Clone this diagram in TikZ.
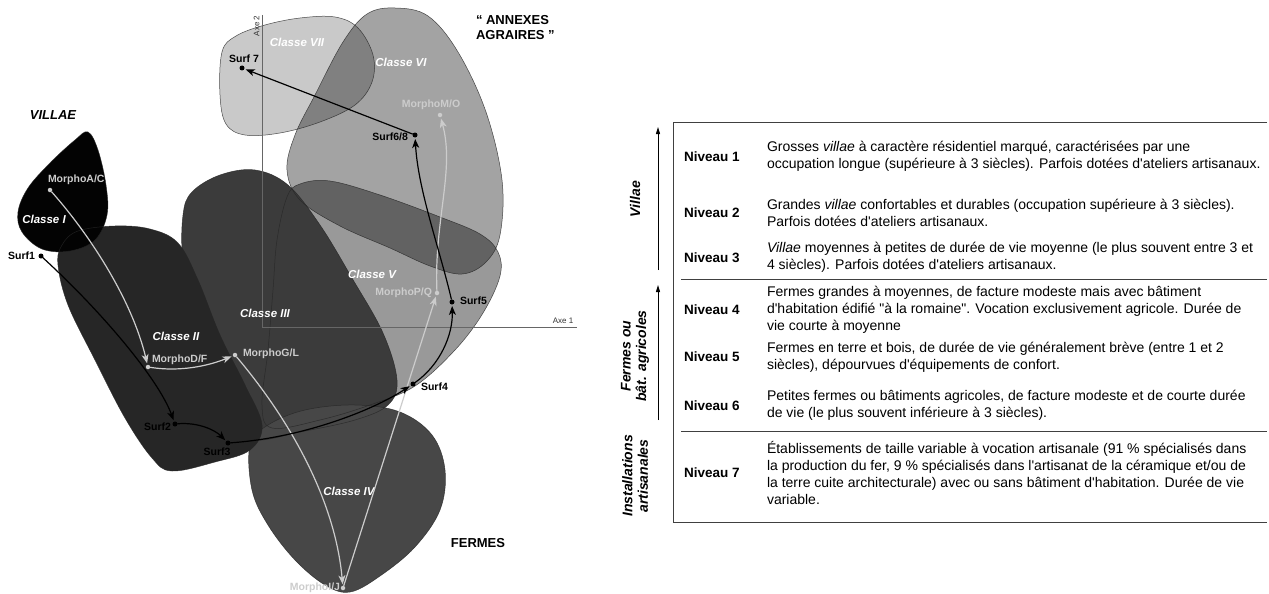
\documentclass[tikz,border=0pt]{standalone}
\usepackage{fontspec}
\setmainfont{Liberation Sans}[Ligatures=TeXOff]
\usetikzlibrary{arrows.meta}
\begin{document}
\begin{tikzpicture}[x=1pt,y=-1pt,
  every node/.style={inner sep=0pt,outer sep=0pt},
  blobline/.style={draw=black!85,line width=0.5pt,draw opacity=0.8},
  dot/.style={circle,fill=black,minimum size=5pt},
  ldot/.style={circle,fill=black!20,minimum size=4.5pt},
  slab/.style={font=\fontsize{10.5}{12}\selectfont\bfseries,text=black},
  mlab/.style={font=\fontsize{10.5}{12}\selectfont\bfseries,text=black!20},
  clab/.style={font=\fontsize{11.5}{13}\selectfont\bfseries\itshape,text=white},
  glab/.style={font=\fontsize{13}{15}\selectfont\bfseries,text=black},
  axlab/.style={font=\fontsize{8}{9}\selectfont,text=black!80},
  barrow/.style={draw=black,line width=1.2pt,-{Stealth[length=9pt,width=7pt,inset=2.5pt]},shorten >=1.5pt},
  larrow/.style={draw=black!20,line width=1.2pt,-{Stealth[length=9pt,width=7pt,inset=2.5pt]},shorten >=1.5pt},
  axisline/.style={draw=black!60,line width=0.7pt},
  frame/.style={draw=black!75,line width=1pt},
  nivl/.style={font=\fontsize{13.5}{17}\selectfont\bfseries,anchor=west},
  txt/.style={font=\fontsize{14}{17}\selectfont,anchor=west,align=left},
  rot/.style={rotate=90,font=\fontsize{14}{15.5}\selectfont\bfseries\itshape,align=center},
  tarrow/.style={draw=black,line width=0.9pt,-{Triangle[length=7pt,width=4pt]}}
]
\useasboundingbox (0,0) rectangle (1269,594);

% ---------- blob shapes ----------
\def\pVII{(222,52) (236,36) (265,25) (300,18) (335,17) (358,28) (373,55) (372,82) (355,105) (320,122) (280,133) (245,135) (226,124) (220,95)}
\def\pVI{(395,8) (428,16) (458,52) (486,112) (502,180) (500,235) (486,262) (462,274) (430,266) (390,248) (340,226) (300,200) (287,170) (295,135) (315,95) (343,42) (367,14)}
\def\pV{(300,184) (330,181) (380,195) (440,217) (480,234) (498,252) (500,276) (483,313) (455,350) (415,386) (370,405) (320,420) (272,428) (262,405) (268,350) (273,290) (277,240) (287,197)}
\def\pIII{(183,215) (192,192) (220,175) (255,170) (288,185) (320,225) (352,278) (383,333) (397,380) (388,405) (355,420) (300,432) (255,440) (228,425) (212,385) (195,320) (183,262)}
\def\pIV{(250,445) (268,425) (305,410) (355,405) (400,412) (432,435) (445,470) (440,510) (415,547) (380,576) (350,592) (325,585) (295,560) (268,525) (252,490)}
\def\pII{(62,245) (78,231) (115,226) (150,229) (178,243) (198,280) (220,335) (245,385) (262,425) (250,450) (215,462) (172,471) (152,458) (125,418) (95,360) (68,305) (58,265)}
\def\pI{(88,132) (98,150) (106,185) (107,215) (95,240) (70,251) (42,249) (22,232) (18,212) (28,188) (50,163) (75,140)}

\fill[black,fill opacity=0.21] plot[smooth cycle,tension=0.6] coordinates {\pVII};
\fill[black,fill opacity=0.36] plot[smooth cycle,tension=0.6] coordinates {\pVI};
\fill[black,fill opacity=0.40] plot[smooth cycle,tension=0.6] coordinates {\pV};
\fill[black!77] plot[smooth cycle,tension=0.6] coordinates {\pIII};
\fill[black!72] plot[smooth cycle,tension=0.6] coordinates {\pIV};
\fill[black!85] plot[smooth cycle,tension=0.6] coordinates {\pII};
\fill[black!99] plot[smooth cycle,tension=0.6] coordinates {\pI};

\draw[blobline] plot[smooth cycle,tension=0.6] coordinates {\pVII};
\draw[blobline] plot[smooth cycle,tension=0.6] coordinates {\pVI};
\draw[blobline] plot[smooth cycle,tension=0.6] coordinates {\pV};
\draw[blobline] plot[smooth cycle,tension=0.6] coordinates {\pIII};
\draw[blobline] plot[smooth cycle,tension=0.6] coordinates {\pIV};
\draw[blobline] plot[smooth cycle,tension=0.6] coordinates {\pII};
\draw[blobline] plot[smooth cycle,tension=0.6] coordinates {\pI};

% ---------- axes ----------
\coordinate (ax2top) at (262,15);
\coordinate (axo) at (262,327);
\coordinate (ax1end) at (577,327);
\draw[axisline] (ax2top) -- (axo) -- (ax1end);
\node[axlab,rotate=90] (axe2) at (256.5,26) {Axe 2};
\node[axlab] (axe1) at (563,321) {Axe 1};

% ---------- group labels ----------
\node[glab,font=\fontsize{13}{15}\selectfont\bfseries\itshape] (villae) at (53,115) {VILLAE};
\node[glab,anchor=west,align=left,font=\fontsize{13}{15}\selectfont\bfseries] (annexes) at (476,28) {“ ANNEXES\\AGRAIRES ”};
\node[glab] (fermes) at (478,543) {FERMES};

% ---------- class labels ----------
\node[clab] (cI) at (44,219) {Classe I};
\node[clab] (cII) at (176,336) {Classe II};
\node[clab] (cIII) at (265,313) {Classe III};
\node[clab] (cIV) at (349,491) {Classe IV};
\node[clab] (cV) at (372,274) {Classe V};
\node[clab] (cVI) at (401,62) {Classe VI};
\node[clab] (cVII) at (297,42) {Classe VII};

% ---------- points ----------
\node[dot] (s1) at (41,256) {};
\node[dot] (s2) at (175,424) {};
\node[dot] (s3) at (228,443) {};
\node[dot] (s4) at (413,384) {};
\node[dot] (s5) at (452,302) {};
\node[dot] (s68) at (415,135) {};
\node[dot] (s7) at (242,68) {};
\node[ldot] (mac) at (50,190) {};
\node[ldot] (mdf) at (148,367) {};
\node[ldot] (mgl) at (235,355) {};
\node[ldot] (mij) at (343,588) {};
\node[ldot] (mpq) at (437,293) {};
\node[ldot] (mmo) at (440,115) {};

\node[slab,anchor=east] (ls1) at (35,256) {Surf1};
\node[slab,anchor=east] (ls2) at (171,427) {Surf2};
\node[slab] (ls3) at (217,452) {Surf3};
\node[slab,anchor=west] (ls4) at (421,387) {Surf4};
\node[slab,anchor=west] (ls5) at (460,301) {Surf5};
\node[slab,anchor=east] (ls68) at (408,137) {Surf6/8};
\node[slab] (ls7) at (244,59) {Surf 7};
\node[mlab,anchor=west] (lmac) at (48,180) {MorphoA/C};
\node[mlab,anchor=west] (lmdf) at (152,360) {MorphoD/F};
\node[mlab,anchor=west] (lmgl) at (243,354) {MorphoG/L};
\node[mlab,anchor=east] (lmij) at (340,588) {MorphoI/J};
\node[mlab,anchor=east] (lmpq) at (432,293) {MorphoP/Q};
\node[mlab] (lmmo) at (431,105) {MorphoM/O};

% ---------- trajectories ----------
\draw[larrow] (mac) .. controls (90,235) and (132,300) .. (mdf);
\draw[larrow] (mdf) .. controls (180,372) and (208,366) .. (mgl);
\draw[larrow] (mgl) .. controls (290,420) and (335,500) .. (mij);
\draw[larrow] (mij) -- (mpq);
\draw[larrow] (mpq) .. controls (434,220) and (455,170) .. (mmo);

\draw[barrow] (s1) .. controls (100,310) and (158,378) .. (s2);
\draw[barrow] (s2) .. controls (198,422) and (215,430) .. (s3);
\draw[barrow] (s3) .. controls (300,438) and (370,412) .. (s4);
\draw[barrow] (s4) .. controls (440,365) and (453,335) .. (s5);
\draw[barrow] (s5) .. controls (440,250) and (418,190) .. (s68);
\draw[barrow] (s68) -- (s7);

% ---------- table ----------
\coordinate (tr) at (1267,122);
\coordinate (tl) at (673,122);
\coordinate (bl) at (673,522);
\coordinate (br) at (1267,522);
\draw[frame] (tr) -- (tl) -- (bl) -- (br);
\coordinate (sepAl) at (681,279);
\coordinate (sepAr) at (1267,279);
\coordinate (sepBl) at (681,431);
\coordinate (sepBr) at (1267,431);
\draw[frame] (sepAl) -- (sepAr);
\draw[frame] (sepBl) -- (sepBr);

\coordinate (aVb) at (658,270);
\coordinate (aVt) at (658,127);
\coordinate (aFb) at (658,420);
\coordinate (aFt) at (658,285);
\draw[tarrow] (aVb) -- (aVt);
\draw[tarrow] (aFb) -- (aFt);
\node[rot] (gvil) at (635,199) {Villae};
\node[rot] (gfer) at (635,356) {Fermes ou\\bât. agricoles};
\node[rot] (gins) at (635,476) {Installations\\artisanales};

\node[nivl] (n1) at (684,156.5) {Niveau 1};
\node[txt] (t1) at (767,156.5) {Grosses \textit{villae}  à caractère résidentiel marqué, caractérisées par une\\occupation longue (supérieure à 3 siècles). Parfois dotées d'ateliers artisanaux.};
\node[nivl] (n2) at (684,212.5) {Niveau 2};
\node[txt] (t2) at (767,212.5) {Grandes \textit{villae}  confortables et durables (occupation supérieure à 3 siècles).\\Parfois dotées d'ateliers artisanaux.};
\node[nivl] (n3) at (684,257.5) {Niveau 3};
\node[txt] (t3) at (767,257.5) {\textit{Villae}  moyennes à petites de durée de vie moyenne (le plus souvent entre 3 et\\4 siècles). Parfois dotées d'ateliers artisanaux.};
\node[nivl] (n4) at (684,310) {Niveau 4};
\node[txt] (t4) at (767,310) {Fermes grandes à moyennes, de facture modeste mais avec bâtiment\\d'habitation édifié "à la romaine". Vocation exclusivement agricole. Durée de\\vie courte à moyenne};
\node[nivl] (n5) at (684,357) {Niveau 5};
\node[txt] (t5) at (767,357) {Fermes en terre et bois, de durée de vie généralement brève (entre 1 et 2\\siècles), dépourvues d'équipements de confort.};
\node[nivl] (n6) at (684,405.5) {Niveau 6};
\node[txt] (t6) at (767,405.5) {Petites fermes ou bâtiments agricoles, de facture modeste et de courte durée\\de vie (le plus souvent inférieure à 3 siècles).};
\node[nivl] (n7) at (684,472.5) {Niveau 7};
\node[txt] (t7) at (767,472.5) {Établissements de taille variable à vocation artisanale (91 \%  spécialisés dans\\la production du fer, 9 \% spécialisés dans l'artisanat de la céramique et/ou de\\la terre cuite architecturale) avec ou sans bâtiment d'habitation. Durée de vie\\variable.};
\end{tikzpicture}
\end{document}
